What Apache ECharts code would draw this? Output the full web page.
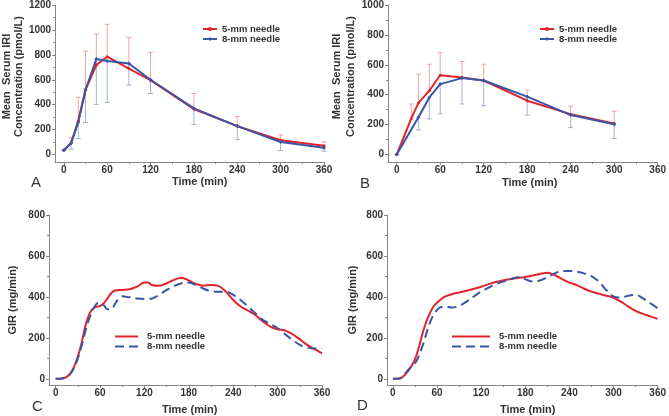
<!DOCTYPE html>
<html><head><meta charset="utf-8">
<script src="https://cdn.jsdelivr.net/npm/echarts@6/dist/echarts.min.js"></script>
<style>html,body{margin:0;padding:0;background:#fff}#c{width:669px;height:416px}</style>
</head><body><div id="c"></div>
<script>
// ---------- DATA ----------
// Panel A: Mean serum IRI (pmol/L)
const tA = [0, 10, 20, 30, 45, 60, 90, 120, 180, 240, 300, 360];
const a5Mean = [35, 92, 270, 520, 718, 785, 690, 597, 365, 228, 115, 70];
const a5Upper = [35, 135, 460, 830, 967, 1045, 940, 820, 490, 305, 158, 102];
const a8Mean = [35, 90, 260, 520, 766, 750, 730, 600, 370, 228, 100, 55];
const a8Lower = [35, 42, 128, 257, 402, 418, 557, 490, 241, 120, 32, 27];
// Panel B
const tB5 = [0, 20, 30, 45, 60, 90, 120, 180, 240, 300];
const b5Mean = [0, 240, 345, 427, 530, 515, 495, 360, 270, 207];
const b5Upper = [0, 338, 538, 604, 682, 622, 604, 431, 324, 289];
const tB8 = [0, 30, 45, 60, 90, 120, 180, 240, 300];
const b8Mean = [0, 249, 382, 471, 511, 495, 387, 264, 202];
const b8Lower = [0, 164, 238, 273, 338, 327, 264, 180, 107];
// Panel C: GIR (mg/min)
const tC5 = [0,10,15,20,25,30,35,40,45,50,55,60,65,70,75,80,90,100,110,120,125,130,140,150,160,170,180,190,200,210,220,230,240,250,260,270,280,290,300,310,320,330,340,350,360];
const c5 = [0,3,10,28,60,109,174,255,312,342,352,356,369,393,418,431,434,437,450,470,470,458,454,467,483,494,480,463,455,458,454,426,385,353,333,312,280,255,242,236,218,193,166,145,125];
const tC8 = [0,10,15,20,25,30,35,40,45,50,55,60,65,70,75,80,85,90,100,110,120,130,140,150,160,170,180,190,200,210,220,230,240,250,260,270,280,290,300,310,320,330,340,350,360];
const c8 = [0,2,8,25,55,100,160,230,290,335,365,373,360,340,340,365,392,403,398,392,390,392,410,434,453,467,470,458,440,428,425,426,410,385,353,320,288,268,247,218,190,166,153,148,148];
// Panel D
const tD5 = [0,5,10,15,20,25,30,35,40,45,50,55,60,70,80,90,100,120,140,160,180,200,210,220,230,240,250,260,270,280,290,300,310,320,330,340,350,360];
const d5 = [0,0,2,15,35,60,95,150,218,275,318,352,372,400,413,422,430,450,473,488,497,512,518,507,487,470,458,440,426,416,406,396,377,353,332,317,305,293];
const tD8 = [0,5,10,15,20,25,30,35,40,45,50,55,60,65,70,80,90,100,110,120,130,140,150,160,170,180,190,200,210,220,230,240,250,260,270,280,290,300,310,320,330,340,350,360];
const d8 = [0,0,3,20,40,60,76,109,158,215,271,312,337,350,353,348,356,377,402,426,445,462,475,486,496,486,475,480,496,515,527,527,523,515,502,475,434,402,397,406,410,393,369,345];
// Ticks
const xTicks = [0, 60, 120, 180, 240, 300, 360];
const xMinor = [30, 90, 150, 210, 270, 330];
const yTicksA = [0, 200, 400, 600, 800, 1000, 1200];
const yMinorA = [100, 300, 500, 700, 900, 1100];
const yTicksB = [0, 200, 400, 600, 800, 1000];
const yMinorB = [100, 300, 500, 700, 900];
const yTicksG = [0, 200, 400, 600, 800];
const yMinorG = [100, 300, 500, 700];
const legendText = {A5:'5-mm needle', A8:'8-mm needle', B5:'5-mm needle', B8:'8-mm needle', C5:'5-mm needle', C8:'8-mm needle', D5:'5-mm needle', D8:'8-mm needle'};

// ---------- STYLE ----------
const FONT = '"Liberation Sans", Arial, sans-serif';
const RED = '#e3232b', BLUE = '#3a55a4';
const RED_E = '#f2a4a6', BLUE_E = '#a3b1d5';
const AX = '#858585', TXT = '#333333';

const pairs = (t, v) => t.map((x, i) => [x, v[i]]);
const triples = (t, v, e) => t.map((x, i) => [x, v[i], e[i]]);
const plain = v => String(v);

function mainX(gi, min, max) {
  return {type:'value', gridIndex:gi, min, max, position:'bottom',
    axisLine:{show:true, onZero:false, lineStyle:{color:AX, width:1}},
    axisTick:{show:true, length:3, customValues:xTicks, lineStyle:{color:AX}},
    axisLabel:{customValues:xTicks, formatter:plain, margin:3, fontSize:10, fontWeight:'bold', color:TXT, fontFamily:FONT},
    splitLine:{show:false}};
}
function minorX(gi, min, max) {
  return {type:'value', gridIndex:gi, min, max, position:'bottom',
    axisLine:{show:false, onZero:false}, axisTick:{show:true, length:2, customValues:xMinor, lineStyle:{color:AX}},
    axisLabel:{show:false}, splitLine:{show:false}};
}
function mainY(gi, min, max, ticks, name, gap, padTop, lh) {
  return {type:'value', gridIndex:gi, min, max, position:'left',
    name, nameLocation:'middle', nameRotate:90, nameGap:gap,
    nameTextStyle:{fontSize:11, fontWeight:'bold', color:TXT, fontFamily:FONT, lineHeight:lh, padding:[0,0,0,padTop]},
    axisLine:{show:true, onZero:false, lineStyle:{color:AX, width:1}},
    axisTick:{show:true, length:3, customValues:ticks, lineStyle:{color:AX}},
    axisLabel:{customValues:ticks, formatter:plain, margin:4, fontSize:10, fontWeight:'bold', color:TXT, fontFamily:FONT},
    splitLine:{show:false}};
}
function minorY(gi, min, max, ticks) {
  return {type:'value', gridIndex:gi, min, max, position:'left',
    axisLine:{show:false, onZero:false}, axisTick:{show:true, length:2, customValues:ticks, lineStyle:{color:AX}},
    axisLabel:{show:false}, splitLine:{show:false}};
}
function errBars(name, xi, yi, data, color) {
  return {type:'custom', name, xAxisIndex:xi, yAxisIndex:yi, z:1, silent:true,
    encode:{x:0, y:[1,2]}, data,
    renderItem: function(params, api) {
      const x = api.value(0), m = api.value(1), e = api.value(2);
      const p1 = api.coord([x, m]), p2 = api.coord([x, e]);
      return {type:'group', children:[
        {type:'line', shape:{x1:p1[0], y1:p1[1], x2:p2[0], y2:p2[1]}, style:{stroke:color, lineWidth:1}},
        {type:'line', shape:{x1:p2[0]-2.5, y1:p2[1], x2:p2[0]+2.5, y2:p2[1]}, style:{stroke:color, lineWidth:1}}
      ]};
    }};
}
function markLine(name, xi, yi, data, color, symbol, size) {
  return {type:'line', name, xAxisIndex:xi, yAxisIndex:yi, z:3, data,
    symbol, symbolSize:size, showSymbol:true, itemStyle:{color, borderWidth:0},
    lineStyle:{color, width:2}};
}
function curve(name, xi, yi, data, color, dashed) {
  return {type:'line', name, xAxisIndex:xi, yAxisIndex:yi, z:3, data, smooth:0.35,
    symbol:'none', showSymbol:false, itemStyle:{color},
    lineStyle:{color, width:2, type: dashed ? [9,5] : 'solid'}};
}
function legend(names, left, top, w, h, textPad, hideSymbol) {
  const l = {data:names, orient:'vertical', left, top, itemWidth:w, itemHeight:h, itemGap:0, padding:0,
    formatter: n => legendText[n], selectedMode:false,
    textStyle:{fontSize:9.5, fontWeight:'bold', color:TXT, fontFamily:FONT, lineHeight:10, padding:[0,0,0,textPad]}};
  if (hideSymbol) l.itemStyle = {color:'rgba(0,0,0,0)', borderWidth:0, opacity:0};
  else l.itemStyle = {borderWidth:0};
  return l;
}
function label(text, left, top, size, weight) {
  return {text, left, top, padding:0, textStyle:{fontSize:size, fontWeight:weight, color:TXT, fontFamily:FONT}};
}

const option = {
  animation:false,
  backgroundColor:'#fff',
  grid:[
    {left:51, top:5, width:273, height:157},
    {left:388, top:5, width:274, height:157},
    {left:49, top:215, width:273, height:170},
    {left:387, top:215, width:273, height:170}
  ],
  xAxis:[
    mainX(0,-12,360), minorX(0,-12,360),
    mainX(1,-12,360), minorX(1,-12,360),
    mainX(2,-9,360), minorX(2,-9,360),
    mainX(3,-8,360), minorX(3,-8,360)
  ],
  yAxis:[
    mainY(0,-60,1200,yTicksA,'Mean  Serum IRI\nConcentration (pmol/L)',26,14,12), minorY(0,-60,1200,yMinorA),
    mainY(1,-50,1000,yTicksB,'Mean  Serum IRI\nConcentration (pmol/L)',22,14,14), minorY(1,-50,1000,yMinorB),
    mainY(2,-30,800,yTicksG,'GIR (mg/min)',30,0,12), minorY(2,-30,800,yMinorG),
    mainY(3,-30,800,yTicksG,'GIR (mg/min)',28,0,12), minorY(3,-30,800,yMinorG)
  ],
  title:[
    label('Time (min)', 172, 176, 11, 'bold'),
    label('Time (min)', 502, 177, 11, 'bold'),
    label('Time (min)', 162, 404, 11, 'bold'),
    label('Time (min)', 500, 404, 11, 'bold'),
    label('A', 31, 175, 15, 'normal'),
    label('B', 360, 176, 15, 'normal'),
    label('C', 32, 399, 15, 'normal'),
    label('D', 357, 398, 15, 'normal')
  ],
  legend:[
    legend(['A5','A8'], 202, 24, 14, 5, 0, false),
    legend(['B5','B8'], 539, 24, 14, 5, 0, false),
    legend(['C5','C8'], 114, 331.5, 23, 8, 4, true),
    legend(['D5','D8'], 451, 331.5, 38, 8, 4, true)
  ],
  series:[
    errBars('eA5', 0, 0, triples(tA, a5Mean, a5Upper), RED_E),
    errBars('eA8', 0, 0, triples(tA, a8Mean, a8Lower), BLUE_E),
    markLine('A5', 0, 0, pairs(tA, a5Mean), RED, 'circle', 3),
    markLine('A8', 0, 0, pairs(tA, a8Mean), BLUE, 'diamond', 4),
    errBars('eB5', 2, 2, triples(tB5, b5Mean, b5Upper), RED_E),
    errBars('eB8', 2, 2, triples(tB8, b8Mean, b8Lower), BLUE_E),
    markLine('B5', 2, 2, pairs(tB5, b5Mean), RED, 'circle', 3),
    markLine('B8', 2, 2, pairs(tB8, b8Mean), BLUE, 'diamond', 4),
    curve('C5', 4, 4, pairs(tC5, c5), RED, false),
    curve('C8', 4, 4, pairs(tC8, c8), BLUE, true),
    curve('D5', 6, 6, pairs(tD5, d5), RED, false),
    curve('D8', 6, 6, pairs(tD8, d8), BLUE, true)
  ]
};
const chart = echarts.init(document.getElementById('c'), null, {renderer:'canvas'});
chart.setOption(option);
</script>
</body></html>
